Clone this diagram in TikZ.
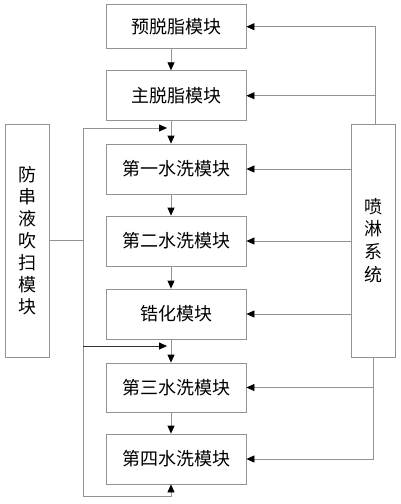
\documentclass[tikz,border=0pt]{standalone}
\usepackage{fontspec}
\newfontfamily\cjk{Noto Sans CJK SC}
\usetikzlibrary{arrows.meta}
\begin{document}
\begin{tikzpicture}[x=1pt,y=-1pt,
 box/.style={draw=gray!85, line width=0.8pt, minimum width=140pt, inner sep=0pt, font=\cjk\fontsize{18}{22}\selectfont},
 side/.style={draw=gray!85, line width=0.8pt, minimum width=44pt, minimum height=233pt, inner sep=0pt, align=center},
 conn/.style={draw=gray!85, line width=0.8pt},
 arr/.style={conn, -{Triangle[length=8pt,width=7pt,color=black]}},
]
\fill[white] (0,0) rectangle (400,504);
\node[box, minimum height=44pt] (A) at (176,26.7) {预脱脂模块};
\node[box, minimum height=50pt] (B) at (176,95.7) {主脱脂模块};
\node[box, minimum height=50pt] (C) at (176,169) {第一水洗模块};
\node[box, minimum height=50pt] (D) at (176,241) {第二水洗模块};
\node[box, minimum height=50pt] (E) at (176,314) {锆化模块};
\node[box, minimum height=49pt] (F) at (176,387.5) {第三水洗模块};
\node[box, minimum height=50pt] (G) at (176,459) {第四水洗模块};
\node[side, font=\cjk\fontsize{18}{22}\selectfont] (L) at (27,240.5) {防\\串\\液\\吹\\扫\\模\\块};
\node[side, font=\cjk\fontsize{18}{22.7}\selectfont] (R) at (373,240.5) {喷\\淋\\系\\统};
% flow
\coordinate (fx) at (171,0);
\draw[arr] (A.south -| fx) -- (B.north -| fx);
\draw[arr] (B.south -| fx) -- (C.north -| fx);
\draw[arr] (C.south -| fx) -- (D.north -| fx);
\draw[arr] (D.south -| fx) -- (E.north -| fx);
\draw[arr] (E.south -| fx) -- (F.north -| fx);
\draw[arr] (F.south -| fx) -- (G.north -| fx);
% right spray system
\coordinate (rt) at (375,124);
\coordinate (rb) at (373,357);
\draw[arr] (rt) |- (A.east);
\draw[arr] (rt |- B.east) -- (B.east);
\draw[arr] (R.west |- C.east) -- (C.east);
\draw[arr] (R.west |- D.east) -- (D.east);
\draw[arr] (R.west |- E.east) -- (E.east);
\draw[arr] (rb) |- (G.east);
\draw[arr] (rb |- F.east) -- (F.east);
% left blowing module
\coordinate (lt) at (83,128);
\coordinate (lm) at (83,346);
\coordinate (lb) at (83,496);
\coordinate (j1) at (167,128);
\coordinate (j2) at (167,346);
\draw[conn] (L.east) -- (L.east -| lt);
\draw[conn] (lt) -- (lb);
\draw[arr] (lt) -- (j1);
\draw[arr, draw=black!80] (lm) -- (j2);
\draw[arr] (lb) -| (G.south -| fx);
\end{tikzpicture}
\end{document}
